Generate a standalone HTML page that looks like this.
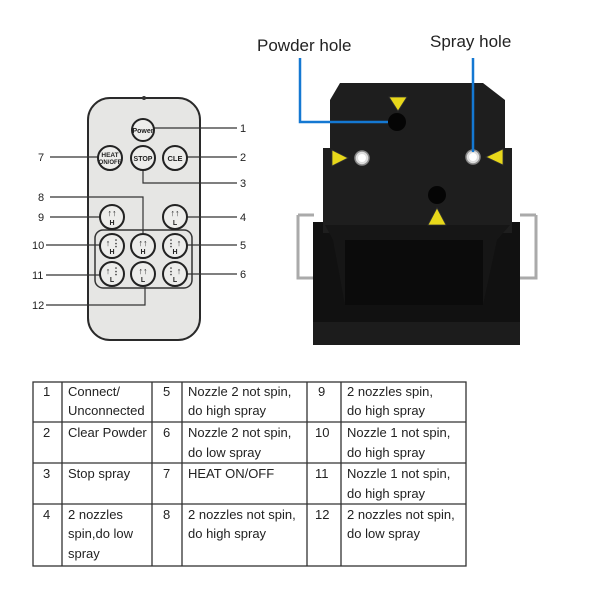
<!DOCTYPE html>
<html><head><style>
body{margin:0;background:#fff;}
svg{display:block}
.t{font-family:"Liberation Sans",sans-serif;}
td{font-family:"Liberation Sans",sans-serif;}
</style></head><body>
<svg width="600" height="600" xmlns="http://www.w3.org/2000/svg">
<!-- remote -->
<rect x="88" y="98" width="112" height="242" rx="22" fill="#e6e6e4" stroke="#2a2a2a" stroke-width="2"/>
<circle cx="144" cy="98" r="2" fill="#333"/>
<g stroke="#333" stroke-width="1.2" fill="none">
<line x1="153" y1="128" x2="237" y2="128"/>
<line x1="187" y1="157" x2="237" y2="157"/>
<polyline points="143,170 143,183 237,183"/>
<line x1="50" y1="157" x2="98" y2="157"/>
<polyline points="50,197 143,197 143,233"/>
<line x1="50" y1="217" x2="100" y2="217"/>
<line x1="187" y1="217" x2="237" y2="217"/>
<line x1="187" y1="245" x2="237" y2="245"/>
<line x1="46" y1="245" x2="100" y2="245"/>
<line x1="46" y1="275" x2="100" y2="275"/>
<line x1="187" y1="274" x2="237" y2="274"/>
<polyline points="46,305 145,305 145,287"/>
</g>
<rect x="95" y="230" width="97" height="58" rx="8" fill="none" stroke="#333" stroke-width="1.5"/>
<g fill="#ededeb" stroke="#222" stroke-width="2">
<circle cx="143" cy="130" r="11"/>
<circle cx="110" cy="158" r="12"/>
<circle cx="143" cy="158" r="12"/>
<circle cx="175" cy="158" r="12"/>
<circle cx="112" cy="217" r="12"/>
<circle cx="175" cy="217" r="12"/>
<circle cx="112" cy="246" r="12"/><circle cx="143" cy="246" r="12"/><circle cx="175" cy="246" r="12"/>
<circle cx="112" cy="274" r="12"/><circle cx="143" cy="274" r="12"/><circle cx="175" cy="274" r="12"/>
</g>
<g class="t" font-weight="bold" fill="#222" text-anchor="middle">
<text x="143" y="133" font-size="7">Power</text>
<text x="110" y="157" font-size="6.5">HEAT</text>
<text x="110" y="164" font-size="6">ON/OFF</text>
<text x="143" y="161" font-size="7">STOP</text>
<text x="175" y="161" font-size="7.5">CLE</text>
<text x="112" y="225" font-size="7">H</text><text x="175" y="225" font-size="7">L</text>
<text x="112" y="254" font-size="7">H</text><text x="143" y="254" font-size="7">H</text><text x="175" y="254" font-size="7">H</text>
<text x="112" y="282" font-size="7">L</text><text x="143" y="282" font-size="7">L</text><text x="175" y="282" font-size="7">L</text>
<text x="112" y="216" font-size="9">↑↑</text><text x="175" y="216" font-size="9">↑↑</text>
<text x="108" y="246" font-size="9">↑</text><text x="116" y="246" font-size="9">⋮</text>
<text x="143" y="246" font-size="9">↑↑</text>
<text x="171" y="246" font-size="9">⋮</text><text x="179" y="246" font-size="9">↑</text>
<text x="108" y="274" font-size="9">↑</text><text x="116" y="274" font-size="9">⋮</text>
<text x="143" y="274" font-size="9">↑↑</text>
<text x="171" y="274" font-size="9">⋮</text><text x="179" y="274" font-size="9">↑</text>
</g>
<g class="t" font-size="11" fill="#222">
<text x="240" y="132">1</text><text x="240" y="161">2</text><text x="240" y="187">3</text>
<text x="240" y="221">4</text><text x="240" y="249">5</text><text x="240" y="278">6</text>
<text x="38" y="161">7</text><text x="38" y="201">8</text><text x="38" y="221">9</text>
<text x="32" y="249">10</text><text x="32" y="279">11</text><text x="32" y="309">12</text>
</g>
<!-- device -->
<path d="M298,215 h16 M298,215 v63 h16" fill="none" stroke="#aaa" stroke-width="3"/>
<path d="M536,215 h-16 M536,215 v63 h-16" fill="none" stroke="#aaa" stroke-width="3"/>
<rect x="313" y="222" width="207" height="123" fill="#111"/>
<rect x="313" y="322" width="207" height="23" fill="#1c1c1c"/>
<polygon points="340,83 483,83 505,100 505,148 512,148 512,233 323,233 323,148 330,148 330,100" fill="#1e1e1e"/>
<polygon points="325,225 510,225 497,240 483,305 345,305 333,240" fill="#161616"/>
<polygon points="345,240 483,240 483,305 345,305" fill="#0b0b0b"/>
<circle cx="397" cy="122" r="9" fill="#050505"/>
<circle cx="437" cy="195" r="9" fill="#050505"/>
<circle cx="362" cy="158" r="7" fill="#ddd" stroke="#888" stroke-width="1.5"/>
<circle cx="362" cy="158" r="4" fill="#fff"/>
<circle cx="473" cy="157" r="7" fill="#ddd" stroke="#888" stroke-width="1.5"/>
<circle cx="473" cy="157" r="4" fill="#fff"/>
<g fill="#e8d81a" stroke="#333" stroke-width="0.8">
<polygon points="389,97 407,97 398,111"/>
<polygon points="332,150 332,166 348,158"/>
<polygon points="503,149 503,165 486,157"/>
<polygon points="437,208 428,225 446,225"/>
</g>
<g stroke="#1478d2" stroke-width="2.5" fill="none">
<polyline points="300,58 300,122 388,122"/>
<line x1="473" y1="58" x2="473" y2="152"/>
</g>
<text class="t" x="257" y="51" font-size="17" fill="#222">Powder hole</text>
<text class="t" x="430" y="47" font-size="17" fill="#222">Spray hole</text>
<!-- table -->
<g stroke="#333" stroke-width="1.3">
<rect x="33" y="382" width="433" height="184" fill="none"/>
<line x1="33" y1="422" x2="466" y2="422"/><line x1="33" y1="463" x2="466" y2="463"/><line x1="33" y1="504" x2="466" y2="504"/>
<line x1="62" y1="382" x2="62" y2="566"/><line x1="152" y1="382" x2="152" y2="566"/><line x1="182" y1="382" x2="182" y2="566"/>
<line x1="307" y1="382" x2="307" y2="566"/><line x1="341" y1="382" x2="341" y2="566"/>
</g>
<g class="t" font-size="13" fill="#222">
<text x="43" y="396">1</text><text x="68" y="396">Connect/</text><text x="68" y="415">Unconnected</text>
<text x="163" y="396">5</text><text x="188" y="396">Nozzle 2 not spin,</text><text x="188" y="415">do high spray</text>
<text x="318" y="396">9</text><text x="347" y="396">2 nozzles spin,</text><text x="347" y="415">do high spray</text>
<text x="43" y="437">2</text><text x="68" y="437">Clear Powder</text>
<text x="163" y="437">6</text><text x="188" y="437">Nozzle 2 not spin,</text><text x="188" y="457">do low spray</text>
<text x="315" y="437">10</text><text x="347" y="437">Nozzle 1 not spin,</text><text x="347" y="457">do high spray</text>
<text x="43" y="478">3</text><text x="68" y="478">Stop spray</text>
<text x="163" y="478">7</text><text x="188" y="478">HEAT ON/OFF</text>
<text x="315" y="478">11</text><text x="347" y="478">Nozzle 1 not spin,</text><text x="347" y="498">do high spray</text>
<text x="43" y="519">4</text><text x="68" y="519">2 nozzles</text><text x="68" y="538">spin,do low</text><text x="68" y="558">spray</text>
<text x="163" y="519">8</text><text x="188" y="519">2 nozzles not spin,</text><text x="188" y="538">do high spray</text>
<text x="315" y="519">12</text><text x="347" y="519">2 nozzles not spin,</text><text x="347" y="538">do low spray</text>
</g>
</svg>
</body></html>
